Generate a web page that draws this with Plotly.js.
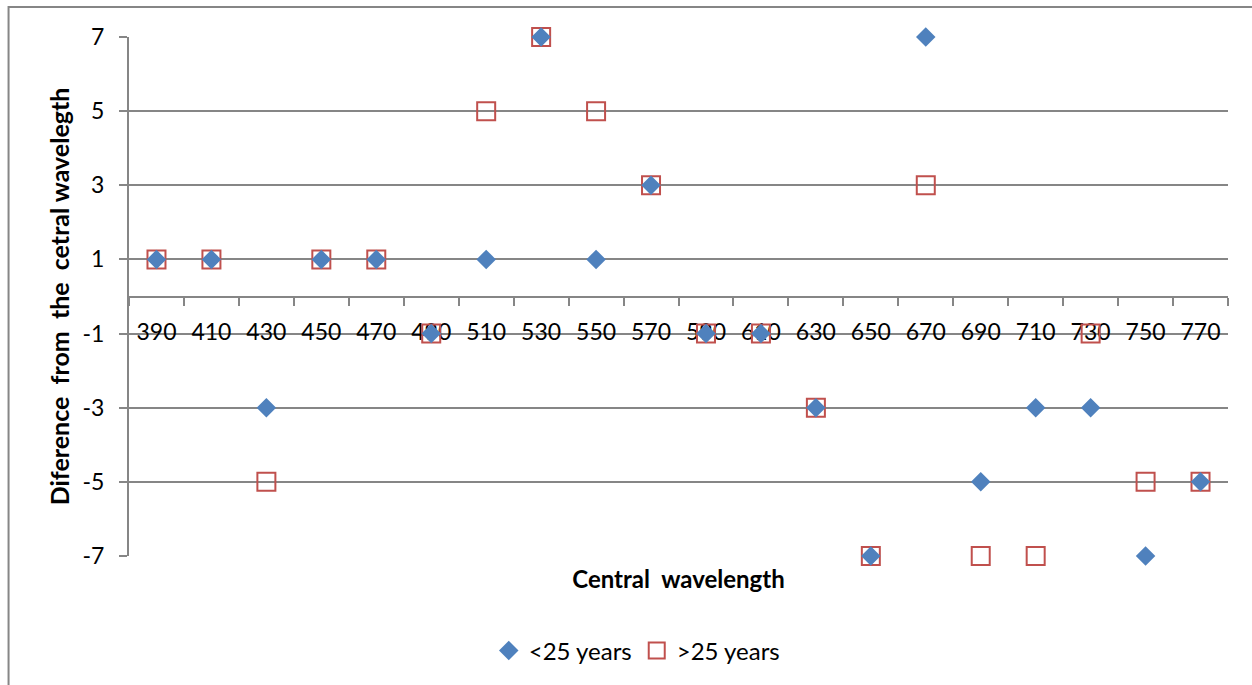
<!DOCTYPE html>
<html>
<head>
<meta charset="utf-8">
<script src="https://cdn.plot.ly/plotly-3.0.1.min.js"></script>
<style>html,body{margin:0;padding:0;background:#fff;}#chart{width:1252px;height:685px;}</style>
</head>
<body>
<div id="chart"></div>
<script>
const wavelengths = ['390','410','430','450','470','490','510','530','550','570','590','610','630','650','670','690','710','730','750','770'];
const under25 = [1, 1, -3, 1, 1, -1, 1, 7, 1, 3, -1, -1, -3, -7, 7, -5, -3, -3, -7, -5];
const over25  = [1, 1, -5, 1, 1, -1, 5, 7, 5, 3, -1, -1, -3, -7, 3, -7, -7, -1, -5, -5];
const yTicks = [-7, -5, -3, -1, 1, 3, 5, 7];
const seriesNames = ['<25 years', '>25 years'];

const FONT = 'Lato, "Open Sans", sans-serif';
const GRAY = '#868686';

const traces = [
  {
    x: wavelengths, y: over25, name: seriesNames[1], type: 'scatter', mode: 'markers',
    marker: {symbol: 'square-open', size: 18, color: '#C0504D', line: {width: 2, color: '#C0504D'}},
    cliponaxis: false, showlegend: true, legendrank: 2
  },
  {
    x: wavelengths, y: under25, name: seriesNames[0], type: 'scatter', mode: 'markers',
    marker: {symbol: 'diamond', size: 15, color: '#4F81BD', line: {width: 0}},
    cliponaxis: false, showlegend: true, legendrank: 1
  }
];

const layout = {
  width: 1252, height: 685,
  margin: {l: 129, r: 24, t: 37, b: 129},
  paper_bgcolor: '#fff', plot_bgcolor: '#fff',
  font: {family: FONT, size: 23, color: '#000'},
  showlegend: true,
  legend: {orientation: 'h', x: 0.462, xanchor: 'center', y: -0.183, yanchor: 'middle',
           font: {family: FONT, size: 24, color: '#000'}, traceorder: 'normal', itemwidth: 30},
  xaxis: {
    type: 'category', range: [-0.5, 19.5], anchor: 'free', position: 0.5,
    showline: true, linecolor: GRAY, linewidth: 2,
    ticks: 'outside', tickson: 'boundaries', ticklen: 8, tickcolor: GRAY, tickwidth: 2,
    ticklabelstandoff: 15,
    showgrid: false, zeroline: false, layer: 'below traces',
    tickfont: {family: FONT, size: 23, color: '#000'},
    title: {text: 'Central  wavelength', font: {family: FONT, size: 24, color: '#000', weight: 'bold'}, standoff: 226}
  },
  yaxis: {
    range: [-7, 7], tickvals: yTicks, ticktext: yTicks.map(String),
    showline: true, linecolor: GRAY, linewidth: 2,
    ticks: 'outside', ticklen: 8, tickcolor: GRAY, tickwidth: 2,
    ticklabelstandoff: 10,
    showgrid: true, gridcolor: GRAY, gridwidth: 2, zeroline: false, layer: 'below traces',
    tickfont: {family: FONT, size: 23, color: '#000'},
    title: {text: 'Diference  from  the  cetral wavelegth', font: {family: FONT, size: 25, color: '#000', weight: 'bold'}, standoff: 6}
  },
  shapes: [
    {type: 'rect', xref: 'paper', yref: 'paper', x0: -0.1096, x1: 1.3, y0: -0.6, y1: 1.0578,
     line: {color: GRAY, width: 2}, fillcolor: 'rgba(0,0,0,0)', layer: 'below'}
  ]
};

Plotly.newPlot('chart', traces, layout, {displayModeBar: false, staticPlot: true});
</script>
</body>
</html>
